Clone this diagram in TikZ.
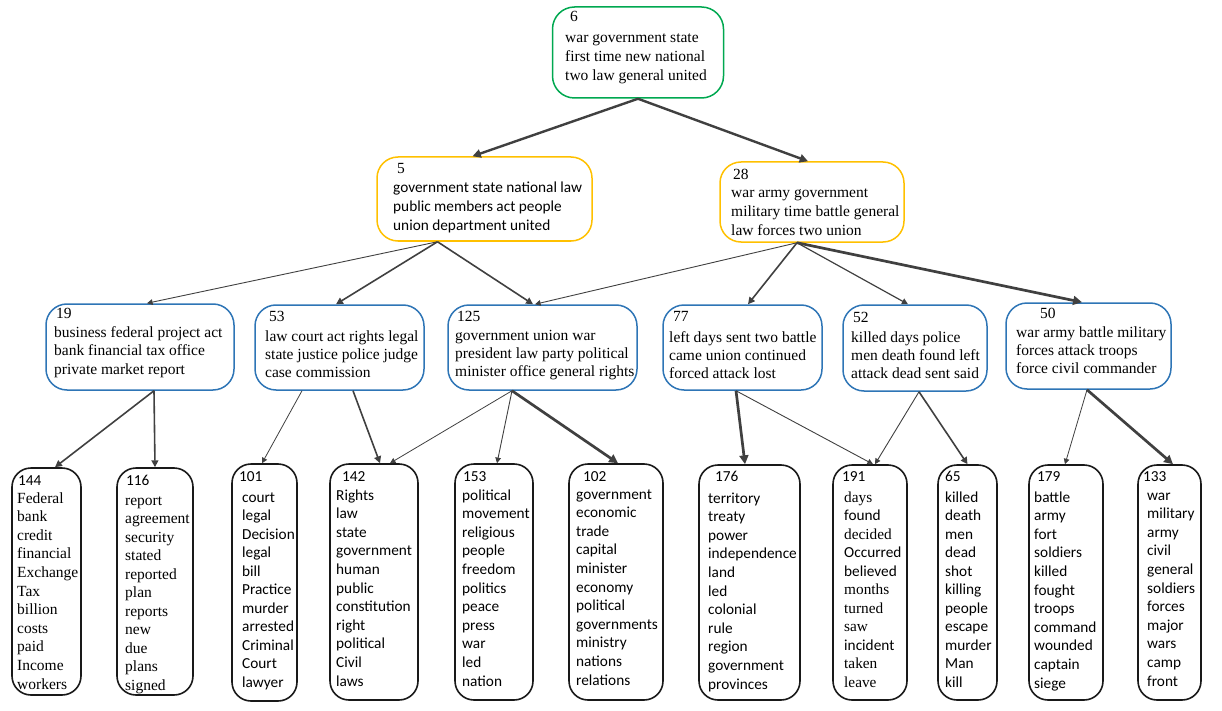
\documentclass[tikz,border=0pt]{standalone}
\usepackage{fontspec}
\setmainfont{Liberation Serif}
\setsansfont{Carlito}
\newfontfamily\serifx{Liberation Serif}
\newfontfamily\sansx{Carlito}
\usetikzlibrary{arrows.meta}
\definecolor{tgreen}{RGB}{0,168,80}
\definecolor{torange}{RGB}{255,192,0}
\definecolor{tblue}{RGB}{46,117,182}
\definecolor{tarrow}{RGB}{64,64,64}
\begin{document}
\begin{tikzpicture}[x=1pt,y=-1pt,
  frame/.style={draw, line width=1.5pt, inner sep=0pt},
  greenbox/.style={frame, draw=tgreen, rounded corners=22pt},
  orangebox/.style={frame, draw=torange, rounded corners=21pt},
  bluebox/.style={frame, draw=tblue, rounded corners=21pt},
  leafbox/.style={frame, draw=black!90, line width=1.6pt, rounded corners=19pt},
  rmtxt/.style={inner sep=0pt, anchor=base west, font=\serifx\fontsize{15.5}{18}\selectfont},
  sftxt/.style={inner sep=0pt, anchor=base west, font=\sansx\fontsize{15.3}{18}\selectfont},
  conn/.style={draw=tarrow, -{Triangle[length=4pt 1.8, width=4pt 1.8]}},
  wthin/.style={conn, line width=0.9pt},
  wmed/.style={conn, line width=1.6pt},
  wthick/.style={conn, line width=2.7pt}
]
\useasboundingbox (0,0) rectangle (1222,711);

% ---------- top ----------
\node[greenbox, minimum width=171, minimum height=91] (n6) at (638,52.5) {};
\node[rmtxt] (n6num) at (570,22) {6};
\foreach \t [count=\i from 0] in {war government state, first time new national, two law general united}
  \node[rmtxt] (n6l\i) at (565,{43+\i*19}) {\t};

% ---------- second level ----------
\node[orangebox, minimum width=215, minimum height=84] (n5) at (484.5,199) {};
\node[rmtxt] (n5num) at (397,174) {5};
\foreach \t [count=\i from 0] in {government state national law, public members act people, union department united}
  \node[sftxt] (n5l\i) at (393,{193+\i*19}) {\t};

\node[orangebox, minimum width=184, minimum height=80] (n28) at (812,202) {};
\node[rmtxt] (n28num) at (733,180) {28};
\foreach \t [count=\i from 0] in {war army government, military time battle general, law forces two union}
  \node[rmtxt] (n28l\i) at (731,{198+\i*19}) {\t};

% ---------- third level ----------
\node[bluebox, minimum width=188, minimum height=86] (n19) at (140,347) {};
\node[rmtxt] (n19num) at (56,318) {19};
\foreach \t [count=\i from 0] in {business federal project act, bank financial tax office, private market report}
  \node[rmtxt] (n19l\i) at (54,{337+\i*18.5}) {\t};

\node[bluebox, minimum width=169, minimum height=85] (n53) at (339.5,347.5) {};
\node[rmtxt] (n53num) at (269,321) {53};
\foreach \t [count=\i from 0] in {law court act rights legal, state justice police judge, case commission}
  \node[rmtxt] (n53l\i) at (265,{341+\i*18.3}) {\t};

\node[bluebox, minimum width=189, minimum height=85] (n125) at (542.5,347.5) {};
\node[rmtxt] (n125num) at (457,321) {125};
\foreach \t [count=\i from 0] in {government union war, president law party political, minister office general rights}
  \node[rmtxt] (n125l\i) at (455,{340+\i*18.3}) {\t};

\node[bluebox, minimum width=159, minimum height=85] (n77) at (742.5,347.5) {};
\node[rmtxt] (n77num) at (673,321) {77};
\foreach \t [count=\i from 0] in {left days sent two battle, came union continued, forced attack lost}
  \node[rmtxt] (n77l\i) at (669,{342+\i*18.3}) {\t};

\node[bluebox, minimum width=144, minimum height=86] (n52) at (915,348) {};
\node[rmtxt] (n52num) at (853,322) {52};
\foreach \t [count=\i from 0] in {killed days police, men death found left, attack dead sent said}
  \node[rmtxt] (n52l\i) at (851,{342+\i*18.3}) {\t};

\node[bluebox, minimum width=165, minimum height=86] (n50) at (1088.5,346) {};
\node[rmtxt] (n50num) at (1040,318) {50};
\foreach \t [count=\i from 0] in {war army battle military, forces attack troops, force civil commander}
  \node[rmtxt] (n50l\i) at (1016,{337+\i*18.3}) {\t};

% ---------- leaves ----------
\node[leafbox, minimum width=69, minimum height=227] (n144) at (46.5,581.5) {};
\node[sftxt] (n144num) at (18,485) {144};
\foreach \t [count=\i from 0] in {Federal,bank,credit,financial,Exchange,Tax,billion,costs,paid,Income,workers}
  \node[rmtxt] (n144w\i) at (17,{503+\i*18.6}) {\t};

\node[leafbox, minimum width=76, minimum height=227] (n116) at (155,581.5) {};
\node[sftxt] (n116num) at (126,485) {116};
\foreach \t [count=\i from 0] in {report,agreement,security,stated,reported,plan,reports,new,due,plans,signed}
  \node[rmtxt] (n116w\i) at (125,{505+\i*18.5}) {\t};

\node[leafbox, minimum width=65, minimum height=237] (n101) at (264.5,582.5) {};
\node[sftxt] (n101num) at (239,481) {101};
\foreach \t [count=\i from 0] in {court,legal,Decision,legal,bill,Practice,murder,arrested,Criminal,Court,lawyer}
  \node[sftxt] (n101w\i) at (242,{502+\i*18.5}) {\t};

\node[leafbox, minimum width=88, minimum height=236] (n142) at (374,582) {};
\node[sftxt] (n142num) at (342,481) {142};
\foreach \t [count=\i from 0] in {Rights,law,state,government,human,public,constitution,right,political,Civil,laws}
  \node[sftxt] (n142w\i) at (336,{500+\i*18.6}) {\t};

\node[leafbox, minimum width=78, minimum height=236] (n153) at (494,582) {};
\node[sftxt] (n153num) at (463,481) {153};
\foreach \t [count=\i from 0] in {political,movement,religious,people,freedom,politics,peace,press,war,led,nation}
  \node[sftxt] (n153w\i) at (462,{500+\i*18.6}) {\t};

\node[leafbox, minimum width=94, minimum height=236] (n102) at (616,582) {};
\node[sftxt] (n102num) at (583,481) {102};
\foreach \t [count=\i from 0] in {government,economic,trade,capital,minister,economy,political,governments,ministry,nations,relations}
  \node[sftxt] (n102w\i) at (576,{499+\i*18.6}) {\t};

\node[leafbox, minimum width=101, minimum height=235] (n176) at (749.5,582.5) {};
\node[sftxt] (n176num) at (715,481) {176};
\foreach \t [count=\i from 0] in {territory,treaty,power,independence,land,led,colonial,rule,region,government,provinces}
  \node[sftxt] (n176w\i) at (708,{503+\i*18.6}) {\t};

\node[leafbox, minimum width=74, minimum height=235] (n191) at (870,582.5) {};
\node[sftxt] (n191num) at (842,481) {191};
\foreach \t [count=\i from 0] in {\serifx days,\sansx found,\serifx decided,\sansx Occurred,\sansx believed,\serifx months,\serifx turned,\serifx saw,\sansx incident,\serifx taken,\serifx leave}
  \node[sftxt] (n191w\i) at (844,{502+\i*18.5}) {\t};

\node[leafbox, minimum width=59, minimum height=235] (n65) at (967.5,582.5) {};
\node[sftxt] (n65num) at (945,481) {65};
\foreach \t [count=\i from 0] in {killed,death,men,dead,shot,killing,people,escape,murder,Man,kill}
  \node[sftxt] (n65w\i) at (945,{502+\i*18.5}) {\t};

\node[leafbox, minimum width=74, minimum height=235] (n179) at (1066,582.5) {};
\node[sftxt] (n179num) at (1037,481) {179};
\foreach \t [count=\i from 0] in {battle,army,fort,soldiers,killed,fought,troops,command,wounded,captain,siege}
  \node[sftxt] (n179w\i) at (1034,{502+\i*18.6}) {\t};

\node[leafbox, minimum width=63, minimum height=235] (n133) at (1169.5,582.5) {};
\node[sftxt] (n133num) at (1143,481) {133};
\foreach \t [count=\i from 0] in {war,military,army,civil,general,soldiers,forces,major,wars,camp,front}
  \node[sftxt] (n133w\i) at (1147,{500+\i*18.6}) {\t};

% ---------- connectors ----------
\draw[wthick, line width=2.4pt] (n6.south) -- ([xshift=-12pt]n5.north);
\draw[wthick, line width=2.4pt] (n6.south) -- ([xshift=-4pt]n28.north);

\draw[wthin] ([xshift=-47pt]n5.south) -- ([xshift=7pt]n19.north);
\draw[wmed] ([xshift=-47pt]n5.south) -- ([xshift=-3.5pt]n53.north);
\draw[wmed] ([xshift=-47pt]n5.south) -- ([xshift=-9.5pt]n125.north);

\draw[wthin] ([xshift=-15pt]n28.south) -- ([xshift=-7.5pt]n125.north);
\draw[wmed] ([xshift=-15pt]n28.south) -- ([xshift=5.5pt]n77.north);
\draw[wthin, line width=1.2pt] ([xshift=-15pt]n28.south) -- ([xshift=-7pt]n52.north);
\draw[wthick] ([xshift=-15pt]n28.south) -- ([xshift=-6.5pt]n50.north);

\draw[wmed] ([xshift=14pt]n19.south) -- ([xshift=8.5pt]n144.north);
\draw[wmed] ([xshift=14pt]n19.south) -- (n116.north);

\draw[wthin, line width=0.8pt] ([xshift=-37.5pt]n53.south) -- ([xshift=-2.5pt]n101.north);
\draw[wmed] ([xshift=13.5pt]n53.south) -- ([xshift=6pt]n142.north);

\draw[wthin, line width=0.8pt] ([xshift=-30.5pt]n125.south) -- ([xshift=16pt]n142.north);
\draw[wthin] ([xshift=-30.5pt]n125.south) -- ([xshift=3pt]n153.north);
\draw[wthick] ([xshift=-30.5pt]n125.south) -- ([xshift=2pt]n102.north);

\draw[wthick] ([xshift=-6.5pt]n77.south) -- ([xshift=-4.5pt]n176.north);
\draw[wthin] ([xshift=-6.5pt]n77.south) -- ([xshift=3pt]n191.north);

\draw[wthin] ([xshift=4pt]n52.south) -- ([xshift=5pt]n191.north);
\draw[wmed] ([xshift=4pt]n52.south) -- (n65.north);

\draw[wthin, line width=0.8pt] ([xshift=-1.5pt]n50.south) -- ([xshift=-1pt]n179.north);
\draw[wthick] ([xshift=-1.5pt]n50.south) -- ([xshift=3.5pt]n133.north);
\end{tikzpicture}
\end{document}
